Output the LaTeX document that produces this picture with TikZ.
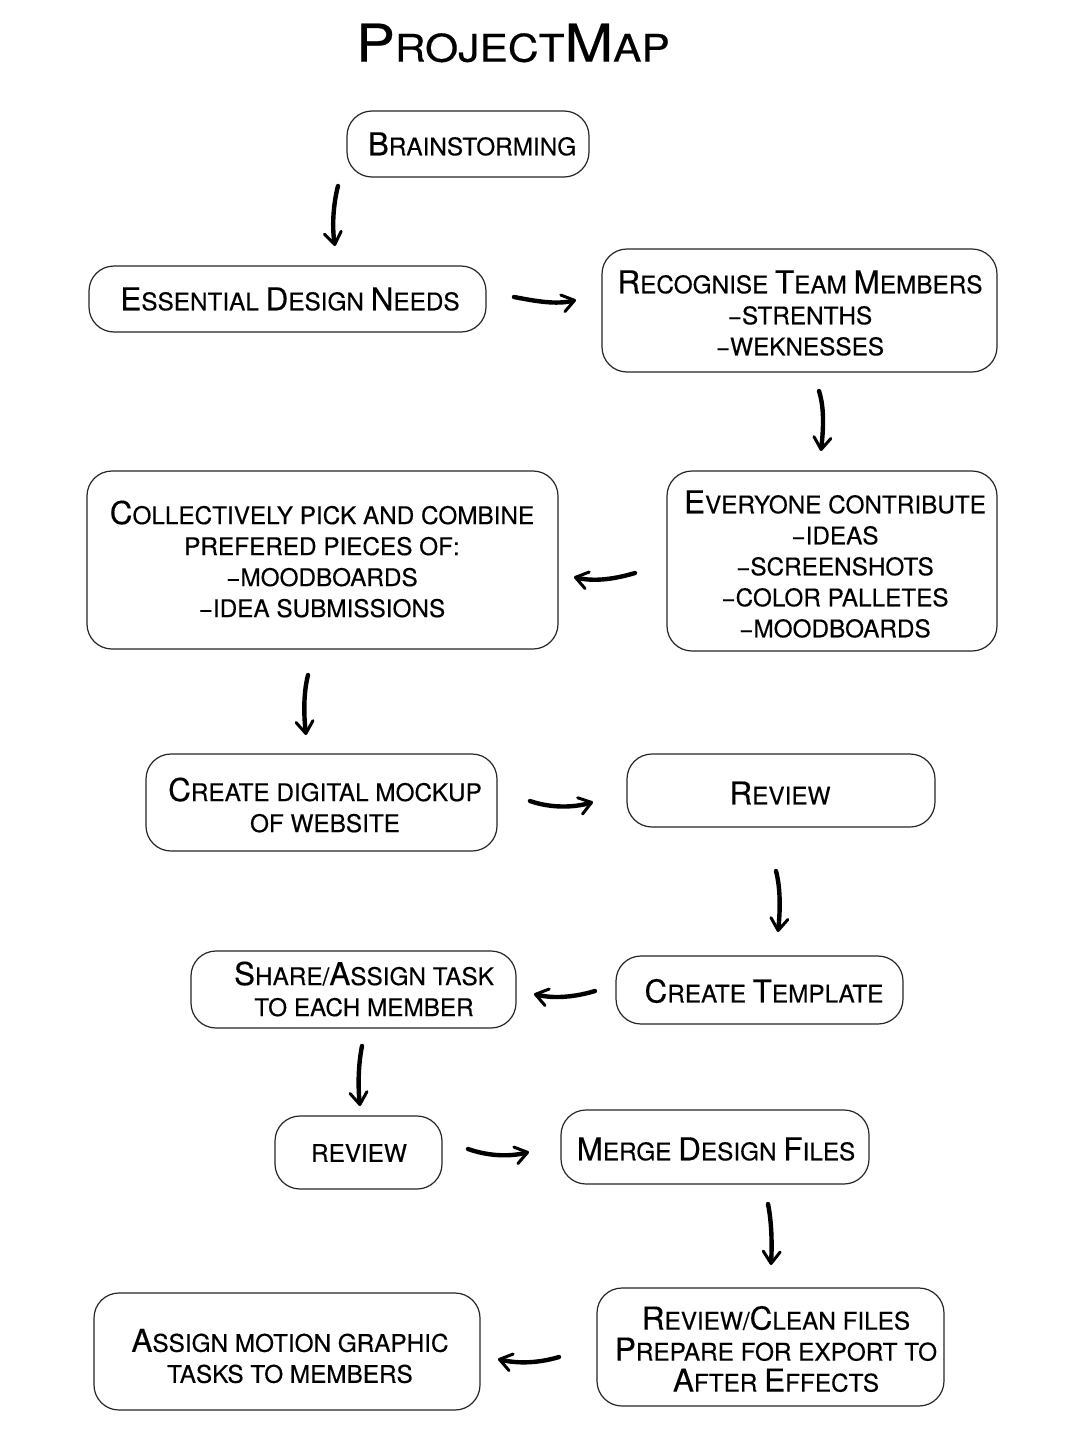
\documentclass[tikz,border=0pt]{standalone}
\usepackage{fontspec}
\usepackage{graphicx}
\setmainfont[FakeBold=0.35]{TeX Gyre Heros}
\usetikzlibrary{arrows.meta}
\newcommand\Bg[1]{{\fontsize{31.5}{31}\selectfont #1}}
\newcommand\Tb[1]{{\fontsize{52}{52}\selectfont #1}}
\newcommand\dsh{\raisebox{0pt}{−}}
\tikzset{
  box/.style={draw=black!85, line width=1.2pt, rounded corners=25pt, inner sep=0pt},
  txt/.style={align=center, inner sep=0pt, font=\fontsize{24.3}{31}\selectfont},
  flow/.style={line width=4.4pt, line cap=round,
    -{Straight Barb[length=12pt,width=17pt,line width=3pt,round]}},
}
\begin{document}
\begin{tikzpicture}[x=1pt,y=-1pt]
\useasboundingbox[fill=white] (0,0) rectangle (1082,1440);

% title
\node[txt] (title) at (513,43) {\scalebox{1.12}[1]{\fontsize{38}{40}\selectfont\Tb{P}ROJECT\Tb{M}AP}};

% boxes
\node[box, minimum width=242pt, minimum height=66pt]  (b1)  at (468,144) {};
\node[box, minimum width=397pt, minimum height=66pt]  (b2)  at (287.5,299) {};
\node[box, minimum width=395pt, minimum height=123pt] (b3)  at (799.5,310.5) {};
\node[box, minimum width=471pt, minimum height=178pt] (b4)  at (322.5,560) {};
\node[box, minimum width=330pt, minimum height=180pt] (b5)  at (832,561) {};
\node[box, minimum width=351pt, minimum height=97pt]  (b6)  at (321.5,802.5) {};
\node[box, minimum width=308pt, minimum height=73pt]  (b7)  at (781,790.5) {};
\node[box, minimum width=325pt, minimum height=77pt]  (b8)  at (353.5,989.5) {};
\node[box, minimum width=287pt, minimum height=68pt]  (b9)  at (759.5,990) {};
\node[box, minimum width=167pt, minimum height=73pt]  (b10) at (358.5,1152.5) {};
\node[box, minimum width=308pt, minimum height=74pt]  (b11) at (715,1147) {};
\node[box, minimum width=347pt, minimum height=118pt] (b12) at (770.5,1347) {};
\node[box, minimum width=386pt, minimum height=117pt] (b13) at (287,1351.5) {};

% texts
\node[txt] (t1)  at (472,144) {\Bg{B}RAINSTORMING};
\node[txt] (t2)  at (290,299) {\Bg{E}SSENTIAL \Bg{D}ESIGN \Bg{N}EEDS};
\node[txt] (t3)  at (800,313) {\Bg{R}ECOGNISE \Bg{T}EAM \Bg{M}EMBERS\\\dsh STRENTHS\\\dsh WEKNESSES};
\node[txt] (t4)  at (322,559) {\Bg{C}OLLECTIVELY PICK AND COMBINE\\PREFERED PIECES OF:\\\dsh MOODBOARDS\\\dsh IDEA SUBMISSIONS};
\node[txt] (t5)  at (835,564) {\Bg{E}VERYONE CONTRIBUTE\\\dsh IDEAS\\\dsh SCREENSHOTS\\\dsh COLOR PALLETES\\\dsh MOODBOARDS};
\node[txt] (t6)  at (325,805) {\Bg{C}REATE DIGITAL MOCKUP\\OF WEBSITE};
\node[txt] (t7)  at (780,793) {\Bg{R}EVIEW};
\node[txt] (t8)  at (364,989) {\Bg{S}HARE/\Bg{A}SSIGN TASK\\TO EACH MEMBER};
\node[txt] (t9)  at (764,991) {\Bg{C}REATE \Bg{T}EMPLATE};
\node[txt] (t10) at (359,1153) {REVIEW};
\node[txt] (t11) at (716,1149) {\Bg{M}ERGE \Bg{D}ESIGN \Bg{F}ILES};
\node[txt] (t12) at (776,1349) {\Bg{R}EVIEW/\Bg{C}LEAN FILES\\\Bg{P}REPARE FOR EXPORT TO\\\Bg{A}FTER \Bg{E}FFECTS};
\node[txt] (t13) at (290,1356) {\Bg{A}SSIGN MOTION GRAPHIC\\TASKS TO MEMBERS};

% arrow end points
\coordinate (a1s) at (338,186);  \coordinate (a1e) at (335,246);
\coordinate (a2s) at (514,297);  \coordinate (a2e) at (576,300);
\coordinate (a3s) at (819,391);  \coordinate (a3e) at (821,451);
\coordinate (a4s) at (635,573);  \coordinate (a4e) at (574,577);
\coordinate (a5s) at (308,675);  \coordinate (a5e) at (306,735);
\coordinate (a6s) at (530,801);  \coordinate (a6e) at (593,802);
\coordinate (a7s) at (776,871);  \coordinate (a7e) at (778,932);
\coordinate (a8s) at (595,991);  \coordinate (a8e) at (534,994);
\coordinate (a9s) at (362,1046); \coordinate (a9e) at (360,1106);
\coordinate (a10s) at (468,1149); \coordinate (a10e) at (529,1152);
\coordinate (a11s) at (768,1204); \coordinate (a11e) at (771,1265);
\coordinate (a12s) at (559,1357); \coordinate (a12e) at (498,1359);

% arrows
\draw[flow] (a1s) .. controls (333,205) and (332,228) .. (a1e);
\draw[flow] (a2s) .. controls (535,301) and (556,305) .. (a2e);
\draw[flow] (a3s) .. controls (825,410) and (823,432) .. (a3e);
\draw[flow] (a4s) .. controls (615,579) and (594,582) .. (a4e);
\draw[flow] (a5s) .. controls (303,695) and (304,717) .. (a5e);
\draw[flow] (a6s) .. controls (550,808) and (573,808) .. (a6e);
\draw[flow] (a7s) .. controls (781,890) and (780,913) .. (a7e);
\draw[flow] (a8s) .. controls (575,997) and (554,999) .. (a8e);
\draw[flow] (a9s) .. controls (358,1066) and (358,1088) .. (a9e);
\draw[flow] (a10s) .. controls (488,1156) and (509,1157) .. (a10e);
\draw[flow] (a11s) .. controls (772,1224) and (772,1246) .. (a11e);
\draw[flow] (a12s) .. controls (539,1363) and (518,1364) .. (a12e);
\end{tikzpicture}
\end{document}
